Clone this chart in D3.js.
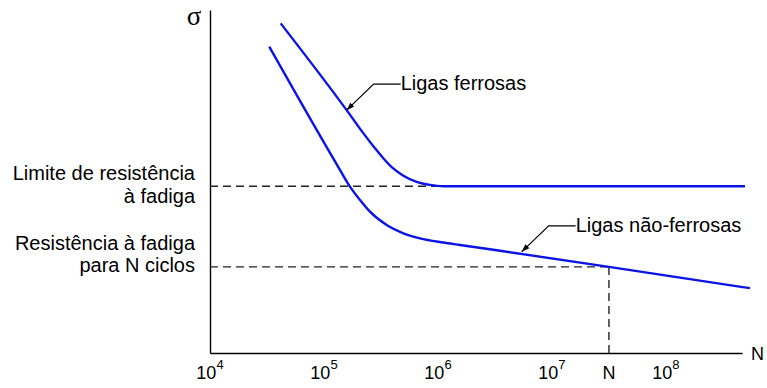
<!DOCTYPE html>
<html>
<head>
<meta charset="utf-8">
<script src="https://cdn.jsdelivr.net/npm/d3@7"></script>
<style>
  body { margin: 0; background: #fff; }
  svg { display: block; }
  text { font-family: "Liberation Sans", Arial, Helvetica, sans-serif; fill: #000; }
</style>
</head>
<body>
<svg id="chart" width="767" height="388"></svg>
<script>
// S-N (Wöhler) curves: stress amplitude vs. number of cycles, log scale on N.
const decadeTicks   = [1e4, 1e5, 1e6, 1e7, 1e8];
const tickExponents = ["4", "5", "6", "7", "8"];
const nMin = 1e4;
const nMax = 10 ** 8.667;
const sigmaMax = 100;

// Ferrous alloys: steep decline, then a horizontal endurance limit
const ferrousN = [41700, 158000, 221000, 280000, 331000, 405000, 497000, 650000, 851000, 1110000, 4.93e8];
const ferrousS = [96.1, 70.8, 64.1, 59.7, 56.8, 53.8, 51.7, 49.9, 49.0, 48.6, 48.6];

// Non-ferrous alloys: no endurance limit, keeps decreasing
const nonFerrousN = [33100, 138000, 169000, 207000, 253000, 355000, 497000, 695000, 1110000, 1560000, 3500000, 31600000, 5.46e8];
const nonFerrousS = [89.3, 53.4, 48.5, 44.6, 41.2, 37.3, 34.9, 33.4, 32.2, 31.5, 29.8, 25.1, 18.9];

// Reference levels
const fatigueLimit  = 48.6;
const fatigueLimitN = 1110000;
const nCycles       = 31600000;
const strengthAtN   = 25.1;

// Curve callouts
const seriesLabels  = ["Ligas ferrosas", "Ligas não-ferrosas"];
const calloutN      = [158000, 5420000];
const calloutS      = [70.8, 29.5];

const leftLabelsLimit    = ["Limite de resistência", "à fadiga"];
const leftLabelsStrength = ["Resistência à fadiga", "para N ciclos"];

const svg = d3.select("#chart");

const x = d3.scaleLog().domain([nMin, nMax]).range([210, 742]);
const y = d3.scaleLinear().domain([0, sigmaMax]).range([353, 10]);

// Arrowhead marker for callouts
svg.append("defs").append("marker")
  .attr("id", "arrow")
  .attr("viewBox", "0 0 10 10")
  .attr("refX", 10).attr("refY", 5)
  .attr("markerWidth", 8).attr("markerHeight", 8)
  .attr("markerUnits", "userSpaceOnUse")
  .attr("orient", "auto")
  .append("path")
  .attr("d", "M0,1.5 L10,5 L0,8.5 Z")
  .attr("fill", "#000");

// Axes
const xAxis = svg.append("g")
  .attr("transform", `translate(0,${y(0)})`)
  .call(d3.axisBottom(x).tickValues([]).tickSizeOuter(0));
xAxis.select(".domain").attr("stroke", "#000").attr("stroke-width", 1.4);

const yAxis = svg.append("g")
  .attr("transform", `translate(${x(nMin)},0)`)
  .call(d3.axisLeft(y).tickValues([]).tickSizeOuter(0));
yAxis.select(".domain").attr("stroke", "#000").attr("stroke-width", 1.4);

// Decade tick labels 10^k
const tickLabels = svg.append("g").selectAll("text")
  .data(decadeTicks)
  .join("text")
  .attr("x", d => x(d))
  .attr("y", 379)
  .attr("text-anchor", "middle")
  .style("font-size", "18px");
tickLabels.append("tspan").text("10");
tickLabels.append("tspan")
  .attr("dy", -10)
  .style("font-size", "13px")
  .text((d, i) => tickExponents[i]);

// "N" marker under the axis and axis titles
svg.append("text")
  .attr("x", x(nCycles)).attr("y", 379)
  .attr("text-anchor", "middle")
  .style("font-size", "18px")
  .text("N");

svg.append("text")
  .attr("x", 751).attr("y", y(0) + 6.5)
  .style("font-size", "18px")
  .text("N");

svg.append("text")
  .attr("x", 194).attr("y", 25)
  .attr("text-anchor", "middle")
  .style("font-family", "\"Liberation Serif\", \"Times New Roman\", serif")
  .style("font-size", "27px")
  .text("σ");

// Dashed reference lines
const dash = svg.append("g")
  .attr("stroke", "#222")
  .attr("stroke-width", 1.4)
  .attr("stroke-dasharray", "8,5")
  .attr("fill", "none");

dash.append("line")
  .attr("x1", x(nMin)).attr("x2", x(fatigueLimitN))
  .attr("y1", y(fatigueLimit)).attr("y2", y(fatigueLimit));

dash.append("line")
  .attr("x1", x(nMin)).attr("x2", x(nCycles))
  .attr("y1", y(strengthAtN)).attr("y2", y(strengthAtN));

dash.append("line")
  .attr("x1", x(nCycles)).attr("x2", x(nCycles))
  .attr("y1", y(strengthAtN)).attr("y2", y(0));

// Left-hand labels for the two reference levels
function leftLabel(lines, baseY, lineGap) {
  svg.append("g").selectAll("text")
    .data(lines)
    .join("text")
    .attr("x", 195)
    .attr("y", (d, i) => baseY + i * lineGap)
    .attr("text-anchor", "end")
    .style("font-size", "20px")
    .text(d => d);
}
leftLabel(leftLabelsLimit, y(fatigueLimit) - 6, 23);
leftLabel(leftLabelsStrength, y(strengthAtN) - 17, 22);

// S-N curves
const line = d3.line()
  .x(d => x(d[0]))
  .y(d => y(d[1]))
  .curve(d3.curveMonotoneX);

const curves = [
  d3.zip(ferrousN, ferrousS),
  d3.zip(nonFerrousN, nonFerrousS)
];

svg.append("g").selectAll("path")
  .data(curves)
  .join("path")
  .attr("d", line)
  .attr("fill", "none")
  .attr("stroke", "#0a14e6")
  .attr("stroke-width", 2.4)
  .attr("stroke-linejoin", "round");

// Callouts with leader arrows
const callouts = svg.append("g");
seriesLabels.forEach((label, i) => {
  const tx = x(calloutN[i]);
  const ty = y(calloutS[i]);
  const ex = tx + 27, ey = ty - 26;
  const hx = ex + 27;
  callouts.append("polyline")
    .attr("points", `${hx},${ey} ${ex},${ey} ${tx},${ty}`)
    .attr("fill", "none")
    .attr("stroke", "#000")
    .attr("stroke-width", 1.2)
    .attr("marker-end", "url(#arrow)");
  callouts.append("text")
    .attr("x", hx)
    .attr("y", ey + 6)
    .style("font-size", "20px")
    .text(label);
});
</script>
</body>
</html>
